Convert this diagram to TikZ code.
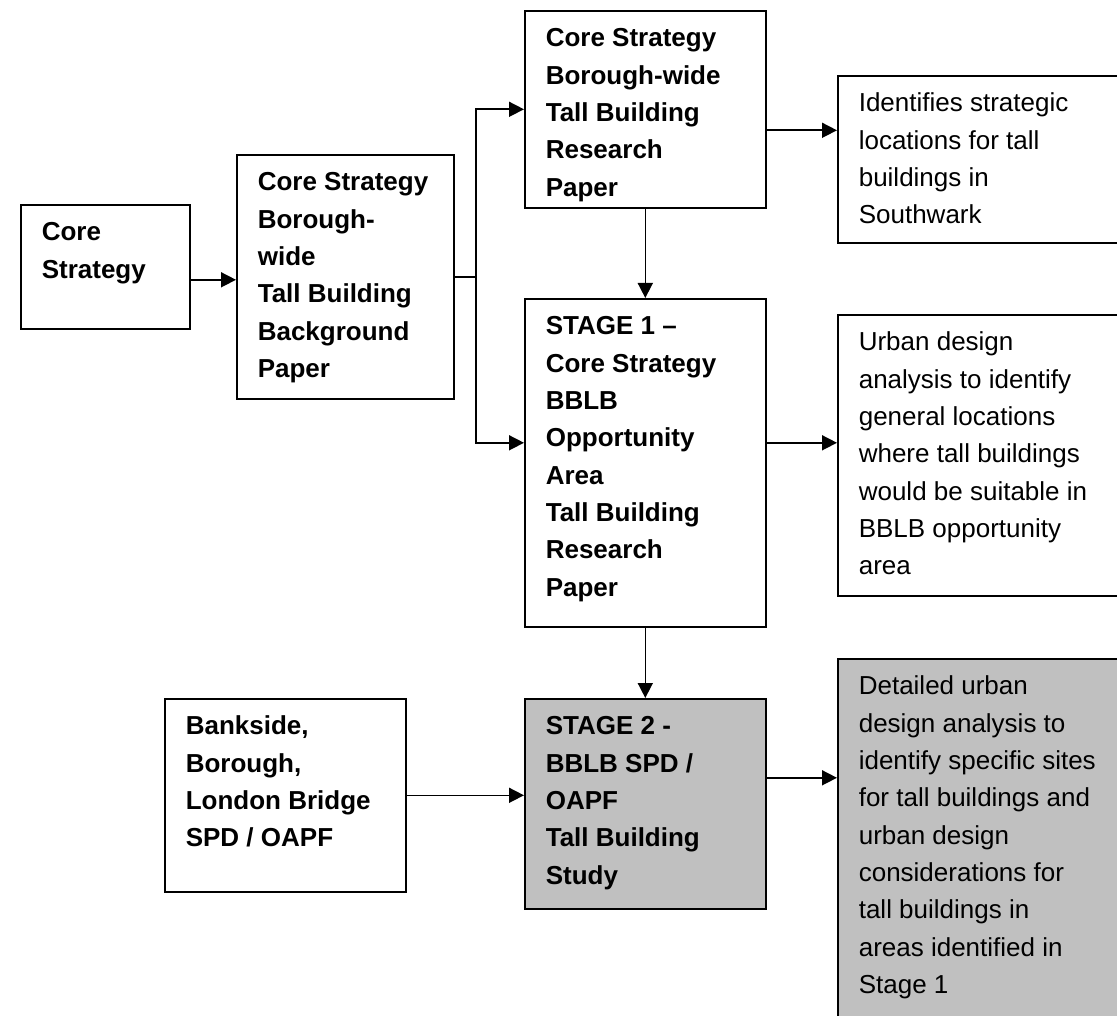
\documentclass[tikz,border=0pt]{standalone}
\usepackage{fontspec}
\setmainfont{Liberation Sans}
\usetikzlibrary{arrows.meta, calc}

\definecolor{stagegrey}{RGB}{192,192,192}

% box text: width, height, lines (top aligned like the word boxes)
\newcommand{\boxtext}[3]{\parbox[t][#2][t]{#1}{\raggedright\vspace*{10pt}\strut #3}}

\tikzset{
    flowbox/.style={draw, line width=1.6pt, anchor=north west, inner xsep=21pt, inner ysep=0pt,
        font=\fontsize{26}{37.3}\selectfont},
    stagebox/.style={flowbox, fill=stagegrey},
    flowarrow/.style={-{Triangle[length=15pt,width=15pt]}, line width=1.6pt}
}

\begin{document}
\begin{tikzpicture}[x=1pt, y=-1pt]

    \useasboundingbox (0,0) rectangle (1117,1016);

    % Left part
    \node[flowbox] (core) at (20,204) {\boxtext{127pt}{124pt}{\bfseries Core\\Strategy}};
    \node[flowbox] (background) at (236,154) {\boxtext{175pt}{244pt}{\bfseries Core Strategy\\Borough-\\wide\\Tall Building\\Background\\Paper}};

    % Middle column
    \node[flowbox] (research) at (524,10) {\boxtext{199pt}{197pt}{\bfseries Core Strategy\\Borough-wide\\Tall Building\\Research\\Paper}};
    \node[flowbox] (stageone) at (524,298) {\boxtext{199pt}{328pt}{\bfseries STAGE 1 --\\Core Strategy\\BBLB\\Opportunity\\Area\\Tall Building\\Research\\Paper}};
    \node[stagebox] (stagetwo) at (524,698) {\boxtext{199pt}{210pt}{\bfseries STAGE 2 -\\BBLB SPD /\\OAPF\\Tall Building\\Study}};

    % Bankside box
    \node[flowbox] (bankside) at (164,698) {\boxtext{199pt}{193pt}{\bfseries Bankside,\\Borough,\\London Bridge\\SPD / OAPF}};

    % Right column (runs off the page)
    \node[flowbox] (identifies) at (837,75) {\boxtext{258pt}{167pt}{Identifies strategic\\locations for tall\\buildings in\\Southwark}};
    \node[flowbox] (urban) at (837,314) {\boxtext{258pt}{281pt}{Urban design\\analysis to identify\\general locations\\where tall buildings\\would be suitable in\\BBLB opportunity\\area}};
    \node[stagebox] (detailed) at (837,658) {\boxtext{258pt}{400pt}{Detailed urban\\design analysis to\\identify specific sites\\for tall buildings and\\urban design\\considerations for\\tall buildings in\\areas identified in\\Stage 1}};

    % Connectors
    \coordinate (split) at (476,276);
    \draw[flowarrow] ([yshift=-13pt]core.east) -- ([yshift=-13pt]core.east -| background.west);
    \draw[line width=1.6pt] (background.east) -- (background.east -| split);
    \draw[flowarrow] (background.east -| split) |- (research.west);
    \draw[flowarrow] (background.east -| split) |- ([yshift=20pt]stageone.west);
    \draw[flowarrow] ([yshift=-21pt]research.east) -- ([yshift=-21pt]research.east -| identifies.west);
    \draw[flowarrow] (research.south) -- (stageone.north);
    \draw[flowarrow] ([yshift=20pt]stageone.east) -- ([yshift=20pt]stageone.east -| urban.west);
    \draw[flowarrow] (stageone.south) -- (stagetwo.north);
    \draw[flowarrow] (bankside.east) -- (bankside.east -| stagetwo.west);
    \draw[flowarrow] ([yshift=26pt]stagetwo.east) -- ([yshift=26pt]stagetwo.east -| detailed.west);

\end{tikzpicture}
\end{document}
